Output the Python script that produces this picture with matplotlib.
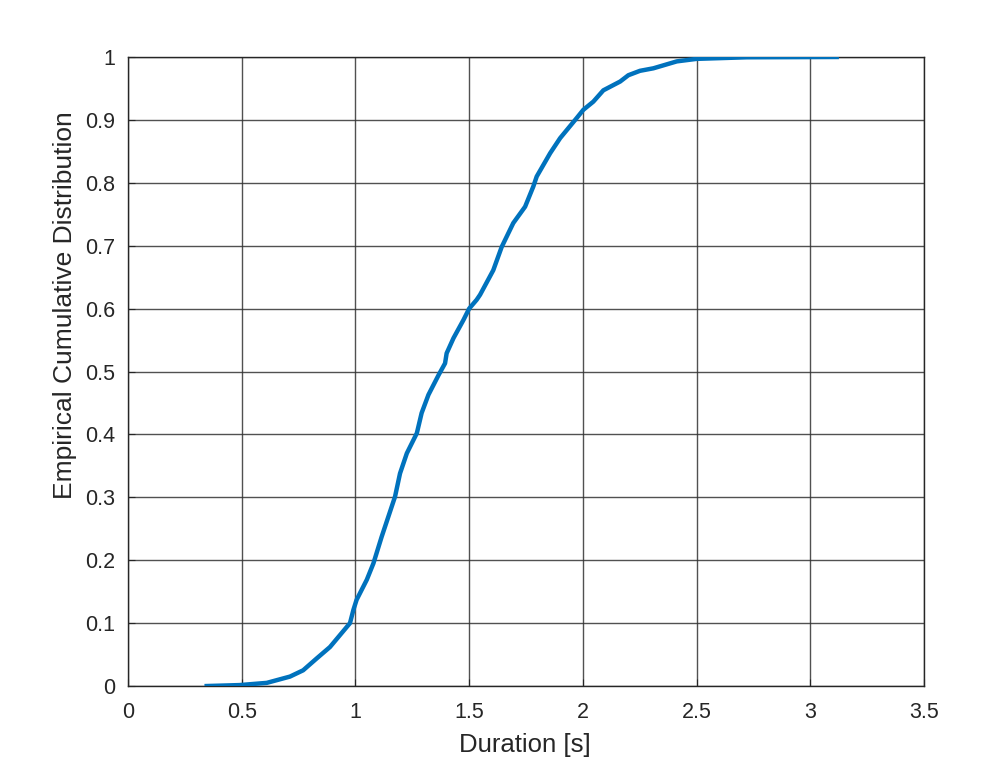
import matplotlib.pyplot as plt

plt.rcParams['font.family'] = ['Liberation Sans', 'DejaVu Sans']

# 读图得到的经验累积分布曲线
duration = [0.346, 0.49, 0.61, 0.712, 0.77, 0.83, 0.888, 0.932, 0.976, 0.991,
            1.005, 1.05, 1.079, 1.115, 1.174, 1.196, 1.226, 1.270, 1.291, 1.321,
            1.365, 1.394, 1.401, 1.431, 1.475, 1.5, 1.533, 1.548, 1.606, 1.643,
            1.694, 1.746, 1.782, 1.797, 1.856, 1.900, 1.973, 2.002, 2.046, 2.090,
            2.164, 2.2, 2.251, 2.310, 2.413, 2.5, 2.72, 3.116]
ecdf = [0.0, 0.0015, 0.005, 0.015, 0.025, 0.044, 0.062, 0.081, 0.1, 0.121,
        0.137, 0.169, 0.195, 0.237, 0.301, 0.338, 0.370, 0.402, 0.434, 0.463,
        0.494, 0.513, 0.529, 0.553, 0.582, 0.6, 0.614, 0.622, 0.661, 0.698,
        0.736, 0.762, 0.794, 0.810, 0.847, 0.871, 0.903, 0.916, 0.929, 0.947,
        0.961, 0.971, 0.978, 0.982, 0.993, 0.997, 0.9995, 1.0]

xticks = [0, 0.5, 1, 1.5, 2, 2.5, 3, 3.5]
xticklabels = ['0', '0.5', '1', '1.5', '2', '2.5', '3', '3.5']
yticks = [0, 0.1, 0.2, 0.3, 0.4, 0.5, 0.6, 0.7, 0.8, 0.9, 1]
yticklabels = ['0', '0.1', '0.2', '0.3', '0.4', '0.5', '0.6', '0.7', '0.8', '0.9', '1']

fig = plt.figure(figsize=(9.97, 7.69), dpi=100)
ax = fig.add_axes([0.1284, 0.1079, 0.7984, 0.818])

ax.plot(duration, ecdf, color='#0072BD', linewidth=3.2, solid_joinstyle='round', zorder=3)

ax.set_xlim(0, 3.5)
ax.set_ylim(0, 1)
ax.set_xticks(xticks)
ax.set_xticklabels(xticklabels)
ax.set_yticks(yticks)
ax.set_yticklabels(yticklabels)
ax.grid(True, color='#333333', linewidth=1, alpha=0.85)
ax.tick_params(direction='in', labelsize=15.5, colors='#262626', length=5)
ax.tick_params(axis='x', pad=11.5)
ax.tick_params(axis='y', pad=9.4)
for s in ax.spines.values():
    s.set_color('#262626')
    s.set_linewidth(1)

ax.set_xlabel('Duration [s]', fontsize=18.5, color='#262626')
ax.set_ylabel('Empirical Cumulative Distribution', fontsize=19, color='#262626')
ax.xaxis.set_label_coords(0.4987, -0.0747)
ax.yaxis.set_label_coords(-0.064, 0.606)

plt.savefig('out.png', dpi=100)
